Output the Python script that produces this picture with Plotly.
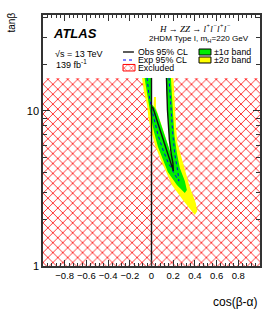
import plotly.graph_objects as go

# ---- data ----
# region covered by the scan (hatched = observed excluded)
scan_x = [-1.0, 1.0, 1.0, -1.0]
scan_y = [1.0, 1.0, 16.33, 16.33]

# observed allowed region (white)
obs_allowed_x = [0.0, 0.0, 0.014, 0.064, 0.109, 0.154, 0.187, 0.202, 0.197, 0.183, 0.165, 0.147, 0.138]
obs_allowed_y = [16.33, 10.62, 10.46, 8.12, 6.50, 5.20, 4.42, 4.10, 4.62, 5.20, 6.50, 10.15, 16.33]

# observed 95% CL contour
obs_x = [0.0, 0.014, 0.064, 0.109, 0.154, 0.187, 0.202, 0.197, 0.183, 0.165, 0.147, 0.138]
obs_y = [10.62, 10.46, 8.12, 6.50, 5.20, 4.42, 4.10, 4.62, 5.20, 6.50, 10.15, 16.33]
obs_vline_x = [0.0, 0.0]
obs_vline_y = [1.0, 16.33]

# expected 95% CL contour
exp_x = [-0.041, -0.023, 0.0, 0.028, 0.060, 0.106, 0.151, 0.206, 0.252, 0.243, 0.216, 0.197, 0.179, 0.161]
exp_y = [16.33, 12.68, 10.46, 8.75, 7.00, 5.60, 4.69, 3.98, 3.53, 4.04, 5.20, 7.00, 10.15, 16.33]

# +-2 sigma band
band2_x = [-0.087, -0.069, -0.041, -0.028, -0.005, 0.032, 0.078, 0.124, 0.188, 0.289, 0.353, 0.399,
           0.422, 0.408, 0.353, 0.307, 0.271, 0.239, 0.225, 0.216, 0.202,
           0.133, 0.147, 0.165, 0.183, 0.197, 0.206,
           0.196, 0.170, 0.137, 0.092, 0.056, 0.041, 0.041, 0.023, 0.018, 0.0, 0.0]
band2_y = [16.33, 13.26, 10.93, 9.01, 7.55, 6.03, 4.98, 4.16, 3.33, 2.67, 2.33, 2.13,
           2.26, 2.55, 3.23, 4.16, 5.05, 6.22, 8.12, 11.78, 16.33,
           16.33, 10.15, 6.50, 5.20, 4.62, 4.29,
           4.83, 5.52, 6.50, 8.12, 9.56, 10.46, 12.31, 12.31, 10.62, 10.62, 16.33]

# +-1 sigma band
band1_x = [-0.064, -0.046, -0.023, 0.0, 0.023, 0.060, 0.106, 0.151, 0.234, 0.307,
           0.326, 0.307, 0.261, 0.234, 0.211, 0.197, 0.188, 0.179,
           0.133, 0.147, 0.165, 0.183, 0.197, 0.206,
           0.196, 0.170, 0.137, 0.092, 0.056, 0.032, 0.0, 0.0]
band1_y = [16.33, 13.26, 10.93, 8.75, 7.33, 5.86, 4.83, 4.04, 3.33, 2.96,
           3.09, 3.53, 4.29, 5.36, 7.00, 9.42, 12.68, 16.33,
           16.33, 10.15, 6.50, 5.20, 4.62, 4.29,
           4.83, 5.52, 6.50, 8.12, 9.56, 10.46, 11.10, 16.33]

x_tickvals = [-0.8, -0.6, -0.4, -0.2, 0.0, 0.2, 0.4, 0.6, 0.8]
x_ticktext = ["\u22120.8", "\u22120.6", "\u22120.4", "\u22120.2", "0", "0.2", "0.4", "0.6", "0.8"]
y_tickvals = [1, 10]
y_ticktext = ["1", "10"]
y_minor = [2, 3, 4, 5, 6, 7, 8, 9, 20, 30, 40]

RED = "#ff0000"
GREEN = "#00ee00"
YELLOW = "#ffff00"
FONT = "Liberation Sans"

fig = go.Figure()

# hatched excluded region
fig.add_trace(go.Scatter(x=scan_x, y=scan_y, mode="lines", fill="toself",
                         line=dict(width=0), fillcolor="rgba(0,0,0,0)",
                         fillpattern=dict(shape="x", fgcolor=RED, bgcolor="white",
                                          size=7, solidity=0.22, fgopacity=0.95),
                         hoverinfo="skip", showlegend=False))
# observed allowed region
fig.add_trace(go.Scatter(x=obs_allowed_x, y=obs_allowed_y, mode="lines", fill="toself",
                         fillcolor="white", line=dict(width=0), hoverinfo="skip", showlegend=False))
# bands
fig.add_trace(go.Scatter(x=band2_x, y=band2_y, mode="lines", fill="toself",
                         fillcolor=YELLOW, line=dict(width=0), hoverinfo="skip", showlegend=False))
fig.add_trace(go.Scatter(x=band1_x, y=band1_y, mode="lines", fill="toself",
                         fillcolor=GREEN, line=dict(width=0), hoverinfo="skip", showlegend=False))
# expected
fig.add_trace(go.Scatter(x=exp_x, y=exp_y, mode="lines",
                         line=dict(color="#0000ff", width=1, dash="dot"), hoverinfo="skip", showlegend=False))
# observed
fig.add_trace(go.Scatter(x=obs_x, y=obs_y, mode="lines",
                         line=dict(color="#111111", width=1.4), hoverinfo="skip", showlegend=False))
fig.add_trace(go.Scatter(x=obs_vline_x, y=obs_vline_y, mode="lines",
                         line=dict(color="#111111", width=1.4), hoverinfo="skip", showlegend=False))

# legend hatched swatch on an overlay 0..1 axis pair
fig.add_trace(go.Scatter(x=[0.3687, 0.424, 0.424, 0.3687, 0.3687],
                         y=[0.777, 0.777, 0.803, 0.803, 0.777],
                         xaxis="x2", yaxis="y2", mode="lines", fill="toself",
                         line=dict(color=RED, width=1), fillcolor="rgba(0,0,0,0)",
                         fillpattern=dict(shape="x", fgcolor=RED, bgcolor="white",
                                          size=5, solidity=0.2, fgopacity=0.9),
                         hoverinfo="skip", showlegend=False))

axis_common = dict(showline=True, linecolor="#333333", linewidth=1.5, mirror="ticks",
                   ticks="inside", tickcolor="#333333", showgrid=False, zeroline=False)

fig.update_layout(
    width=274, height=318,
    margin=dict(l=43, r=14, t=15, b=52),
    paper_bgcolor="white", plot_bgcolor="white",
    font=dict(family=FONT, color="black"),
    xaxis=dict(range=[-1, 1], tickvals=x_tickvals, ticktext=x_ticktext, ticklen=6, tickwidth=1,
               tickfont=dict(size=9.5, family=FONT),
               minor=dict(dtick=0.04, tick0=0, ticks="inside", ticklen=3, tickcolor="#333333"),
               **axis_common),
    yaxis=dict(type="log", range=[0, 1.619], tickvals=y_tickvals, ticktext=y_ticktext, ticklen=7,
               tickfont=dict(size=11, family=FONT),
               minor=dict(tickvals=y_minor, ticks="inside", ticklen=4, tickcolor="#333333"),
               **axis_common),
    xaxis2=dict(range=[0, 1], overlaying="x", visible=False, fixedrange=True),
    yaxis2=dict(range=[0, 1], overlaying="y", visible=False, fixedrange=True),
)

shapes = [
    dict(type="line", xref="paper", yref="paper", x0=0.3687, x1=0.419, y0=0.8526, y1=0.8526,
         line=dict(color="#333333", width=1.6)),
    dict(type="line", xref="paper", yref="paper", x0=0.3687, x1=0.419, y0=0.8207, y1=0.8207,
         line=dict(color="#0000ff", width=1, dash="dot")),
    dict(type="rect", xref="paper", yref="paper", x0=0.719, x1=0.774, y0=0.8406, y1=0.8645,
         fillcolor=GREEN, line=dict(color="black", width=1)),
    dict(type="rect", xref="paper", yref="paper", x0=0.719, x1=0.774, y0=0.8088, y1=0.8327,
         fillcolor=YELLOW, line=dict(color="black", width=1)),
]
fig.update_layout(shapes=shapes)

def ann(text, x, y, size=9, xanchor="left", yanchor="middle", family=FONT, angle=0):
    fig.add_annotation(text=text, x=x, y=y, xref="paper", yref="paper", showarrow=False,
                       xanchor=xanchor, yanchor=yanchor, textangle=angle,
                       font=dict(size=size, family=family, color="black"))

ann("<b><i>ATLAS</i></b>", 0.036, 0.928, size=13)
ann("\u221as = 13 TeV", 0.044, 0.845, size=9)
ann("139 fb<sup>-1</sup>", 0.050, 0.803, size=9)
ann("<i>H \u2192 ZZ \u2192 l<sup>+</sup>l<sup>\u2212</sup>l<sup>+</sup>l<sup>\u2212</sup></i>",
    0.525, 0.950, size=9, family="Liberation Serif")
ann("2HDM Type I, m<sub>H</sub>=220 GeV", 0.478, 0.906, size=8.1)
ann("Obs 95% CL", 0.4286, 0.8526, size=8.8)
ann("Exp 95% CL", 0.4286, 0.8207, size=8.8)
ann("Excluded", 0.4286, 0.7888, size=8.8)
ann("\u00b11\u03c3 band", 0.781, 0.8526, size=8.8)
ann("\u00b12\u03c3 band", 0.781, 0.8207, size=8.8)
ann("cos(\u03b2-\u03b1)", 1.0, -0.1434, size=12, xanchor="right")
ann("tan\u03b2", -0.143, 0.970, size=10, xanchor="center", yanchor="middle", angle=-90)

fig.write_html("out.html", config={"displayModeBar": False},
               post_script="document.body.style.margin='0px';")
